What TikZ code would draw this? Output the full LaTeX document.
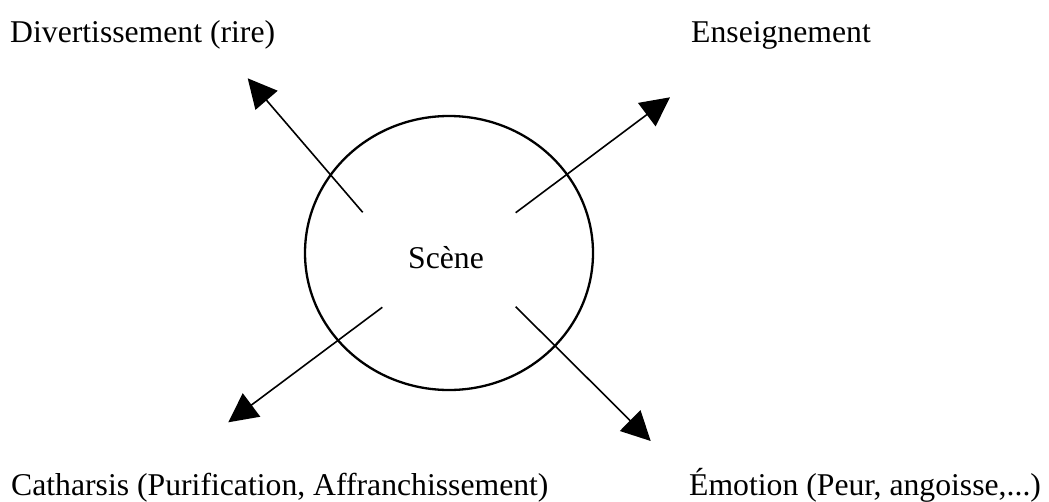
\documentclass[tikz,border=0pt]{standalone}
\usepackage{fontspec}
\setmainfont{Liberation Serif}
\usetikzlibrary{arrows.meta,shapes.geometric}
\begin{document}
\begin{tikzpicture}[x=1pt,y=-1pt,
  lbl/.style={inner sep=0pt,anchor=base west,font=\fontsize{31.7}{38}\selectfont},
  arr/.style={line width=1.6pt,-{Triangle[length=29pt,width=29pt]}},
  stage/.style={draw,ellipse,line width=2.3pt,minimum width=288pt,minimum height=274pt,inner sep=0pt}]
\useasboundingbox (0,0) rectangle (1049,501);
\node[stage] (scene) at (449,253) {};
\node[inner sep=0pt,anchor=base,font=\fontsize{31.7}{38}\selectfont] (scenetxt) at (446,268.7) {Scène};
\node[lbl] (div) at (10,42) {Divertissement (rire)};
\node[lbl] (ens) at (691,42) {Enseignement};
\node[lbl] (cat) at (11,495) {Catharsis (Purification, Affranchissement)};
\node[lbl] (emo) at (689,495) {Émotion (Peur, angoisse,...)};
\coordinate (s1) at (362.7,212.3); \coordinate (t1) at (247.7,78.3);
\coordinate (s2) at (515.7,212.7); \coordinate (t2) at (670,97.3);
\coordinate (s3) at (382.3,307.3); \coordinate (t3) at (228.3,422.3);
\coordinate (s4) at (515.7,306.7); \coordinate (t4) at (650.7,441);
\draw[arr] (s1) -- (t1);
\draw[arr] (s2) -- (t2);
\draw[arr] (s3) -- (t3);
\draw[arr] (s4) -- (t4);
\end{tikzpicture}
\end{document}
